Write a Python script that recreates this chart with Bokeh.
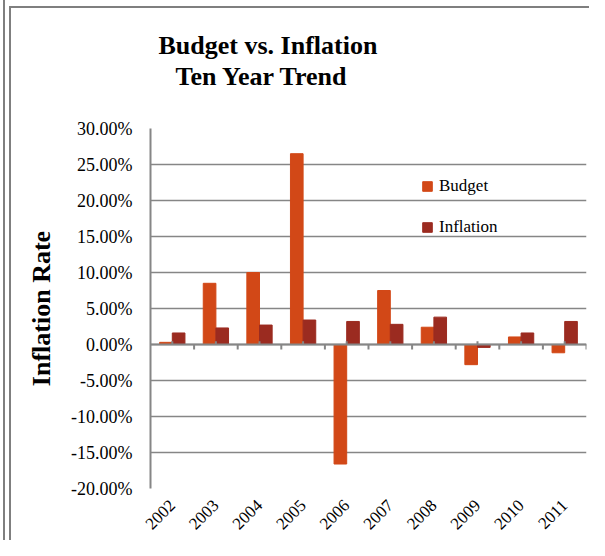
from math import pi
from bokeh.plotting import figure
from bokeh.models import (FactorRange, Range1d, FixedTicker, PrintfTickFormatter,
                          Span, Title)
from bokeh.transform import dodge
from bokeh.embed import file_html
from bokeh.resources import INLINE

# ---- data (percent) ----
years = ["2002", "2003", "2004", "2005", "2006", "2007", "2008", "2009", "2010", "2011"]
budget = [0.3, 8.5, 10.0, 26.5, -16.6, 7.5, 2.4, -2.8, 1.05, -1.15]
inflation = [1.6, 2.3, 2.7, 3.4, 3.2, 2.8, 3.8, -0.4, 1.6, 3.2]
y_ticks = [-20, -15, -10, -5, 0, 5, 10, 15, 20, 25, 30]

FONT = "Liberation Serif"
GRAY = "#868686"
BUDGET_COLOR = "#D24817"
INFL_COLOR = "#9B2B20"

stripe = "linear-gradient(#7f7f7f, #7f7f7f)"
frame_bg = ", ".join([
    f"{stripe} 3px 0 / 2px 100% no-repeat",
    f"{stripe} 9px 6px / 2px 100% no-repeat",
    f"{stripe} 9px 6px / 100% 2px no-repeat",
])

p = figure(
    width=589, height=540,
    x_range=FactorRange(*years, range_padding=0),
    y_range=Range1d(-20, 30),
    output_backend="svg", toolbar_location=None,
    min_border_left=150, min_border_right=3, min_border_top=128, min_border_bottom=52,
    background_fill_color="white", border_fill_color=None,
    styles={"background": frame_bg},
)
p.outline_line_color = None

src = dict(years=years, budget=budget, inflation=inflation)
p.vbar(x=dodge("years", -0.145, range=p.x_range), top="budget", bottom=0, width=0.29,
       source=src, fill_color=BUDGET_COLOR, line_color=BUDGET_COLOR, legend_label="Budget")
p.vbar(x=dodge("years", 0.145, range=p.x_range), top="inflation", bottom=0, width=0.29,
       source=src, fill_color=INFL_COLOR, line_color=INFL_COLOR, legend_label="Inflation")

# zero (category) axis line with tick marks
p.add_layout(Span(location=0, dimension="width", line_color=GRAY, line_width=2))
bounds = list(range(1, len(years) + 1))
p.segment(x0=bounds, y0=[0] * len(bounds), x1=bounds, y1=[-0.7] * len(bounds),
          line_color=GRAY, line_width=2)
p.segment(x0=years, y0=[0] * len(years), x1=years, y1=[0.45] * len(years),
          line_color=GRAY, line_width=2)

# y axis
yax = p.yaxis[0]
yax.ticker = FixedTicker(ticks=y_ticks, minor_ticks=[])
yax.formatter = PrintfTickFormatter(format="%.2f%%")
yax.axis_line_color = GRAY
yax.axis_line_width = 2
yax.major_tick_out = 0
yax.major_tick_in = 0
yax.minor_tick_line_color = None
yax.major_label_standoff = 18
yax.major_label_text_font = FONT
yax.major_label_text_font_size = "18px"
yax.major_label_text_color = "black"
yax.axis_label = "Inflation Rate"
yax.axis_label_text_font = FONT
yax.axis_label_text_font_size = "26px"
yax.axis_label_text_font_style = "bold"
yax.axis_label_text_color = "black"
yax.axis_label_standoff = 12

p.ygrid.grid_line_color = GRAY
p.ygrid.grid_line_width = 1.5
p.xgrid.grid_line_color = None

# x axis (labels only, at bottom)
xax = p.xaxis[0]
xax.axis_line_color = None
xax.major_tick_line_color = None
xax.major_tick_out = 0
xax.major_tick_in = 0
xax.minor_tick_line_color = None
xax.major_label_orientation = pi / 4
xax.major_label_standoff = 14
xax.major_label_text_font = FONT
xax.major_label_text_font_size = "17px"
xax.major_label_text_color = "black"

# title (two lines), stacked above the frame
title_style = dict(text_font=FONT, text_font_size="26px", text_font_style="bold",
                   text_color="black", align="left", vertical_align="bottom")
spacer = Title(text=" ", text_font_size="1px", standoff=35, align="left")
line2 = Title(text="Ten Year Trend", offset=25, standoff=0, **title_style)
line1 = Title(text="Budget vs. Inflation", offset=8, standoff=0, **title_style)
p.add_layout(spacer, "above")
p.add_layout(line2, "above")
p.add_layout(line1, "above")

# legend
lg = p.legend[0]
lg.location = (271, 251)
lg.padding = 0
lg.margin = 0
lg.border_line_color = None
lg.background_fill_alpha = 0
lg.glyph_width = 12
lg.glyph_height = 12
lg.label_height = 20
lg.spacing = 21
lg.label_standoff = 6
lg.label_text_font = FONT
lg.label_text_font_size = "17px"
lg.label_text_color = "black"

open("out.html", "w").write(file_html(p, INLINE))
